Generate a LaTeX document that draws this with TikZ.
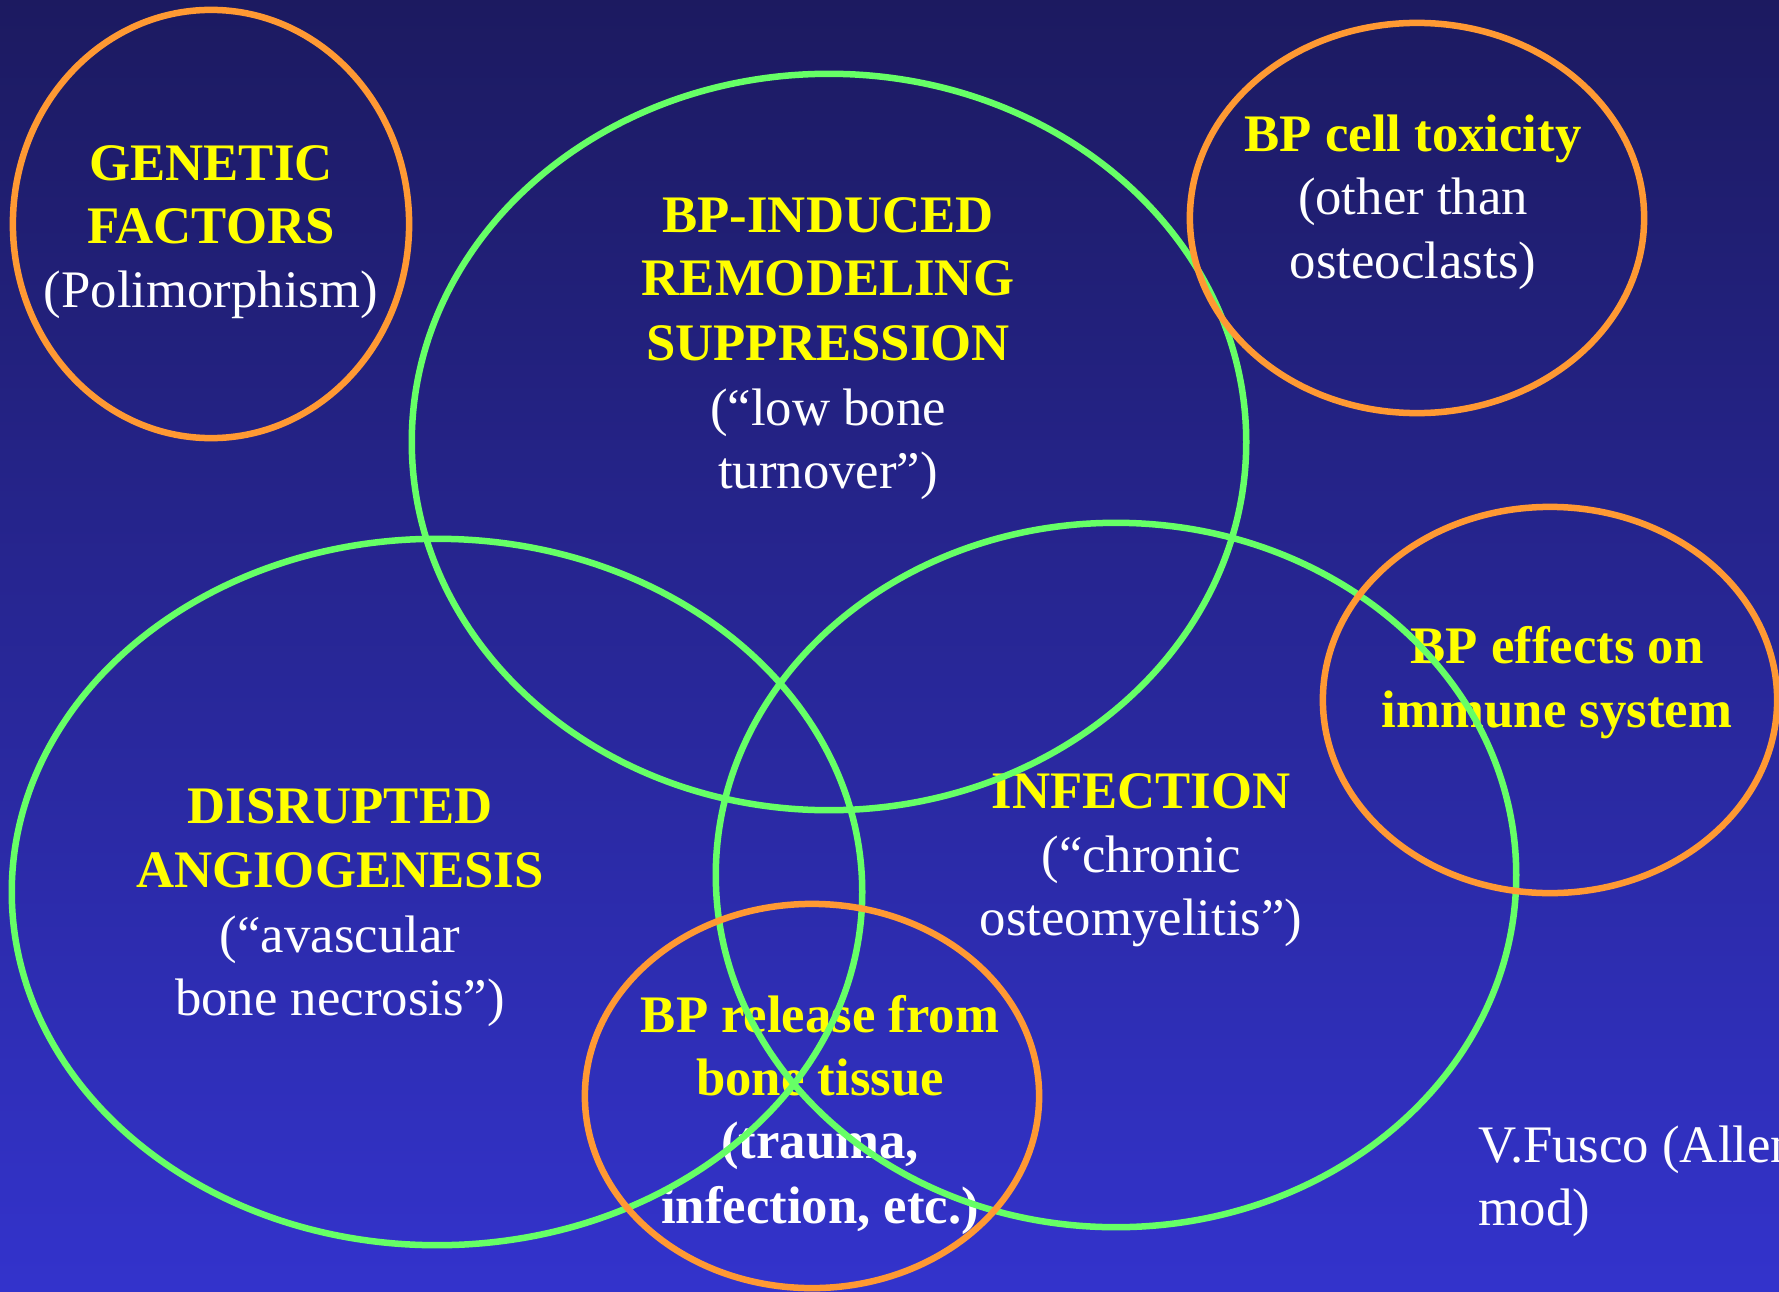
\documentclass[tikz,border=0pt]{standalone}
\usepackage{fontspec}
\setmainfont{Liberation Serif}
\usetikzlibrary{shapes.geometric}
\definecolor{bgtop}{RGB}{28,26,96}
\definecolor{bgbot}{RGB}{51,51,204}
\definecolor{lgreen}{RGB}{102,255,102}
\definecolor{lorange}{RGB}{255,153,51}
\definecolor{lyellow}{RGB}{255,255,0}
\begin{document}
\begin{tikzpicture}[x=0.01cm,y=-0.01cm,
  ring/.style={ellipse,draw,line width=0.065cm,inner sep=0pt,outer sep=0pt},
  grn/.style={ring,draw=lgreen},
  org/.style={ring,draw=lorange},
  txt/.style={anchor=base,inner sep=0pt,text=white,font=\fontsize{15pt}{18pt}\selectfont},
  hd/.style={txt,text=lyellow,font=\fontsize{15pt}{18pt}\selectfont\bfseries},
  sub/.style={txt},
  subb/.style={txt,font=\fontsize{15pt}{18pt}\selectfont\bfseries}]
\fill[top color=bgtop,bottom color=bgbot] (0,0) rectangle (1779,1291);
\useasboundingbox (0,0) rectangle (1779,1291);

% texts
\node[hd]  (g1) at (211,180) {GENETIC};
\node[hd]  (g2) at (211,243) {FACTORS};
\node[sub] (g3) at (211,307) {(Polimorphism)};

\node[hd]  (r1) at (828,232) {BP-INDUCED};
\node[hd]  (r2) at (828,295) {REMODELING};
\node[hd]  (r3) at (828,360) {SUPPRESSION};
\node[sub] (r4) at (828,425) {(“low bone};
\node[sub] (r5) at (828,488) {turnover”)};

\node[hd]  (t1) at (1413,152) {BP cell toxicity};
\node[sub] (t2) at (1413,215) {(other than};
\node[sub] (t3) at (1413,278) {osteoclasts)};

\node[hd]  (e1) at (1557,663) {BP effects on};
\node[hd]  (e2) at (1557,727) {immune system};

\node[hd]  (a1) at (340,823) {DISRUPTED};
\node[hd]  (a2) at (340,887) {ANGIOGENESIS};
\node[sub] (a3) at (340,952) {(“avascular};
\node[sub] (a4) at (340,1015) {bone necrosis”)};

\node[hd]  (i1) at (1141,808) {INFECTION};
\node[sub] (i2) at (1141,872) {(“chronic};
\node[sub] (i3) at (1141,935) {osteomyelitis”)};

\node[hd]   (b1) at (820,1032) {BP release from};
\node[hd]   (b2) at (820,1095) {bone tissue};
\node[subb] (b3) at (820,1158) {(trauma,};
\node[subb] (b4) at (820,1223) {infection, etc.)};

\node[sub,anchor=base west] (v1) at (1478,1162) {V.Fusco (Allen};
\node[sub,anchor=base west] (v2) at (1478,1225) {mod)};

% green ellipses
\node[grn,minimum width=8.34cm,minimum height=7.36cm] (remod) at (829,442) {};
\node[grn,minimum width=8.50cm,minimum height=7.06cm] (angio) at (437,892) {};
\node[grn,minimum width=8.00cm,minimum height=7.04cm] (infec) at (1116,875) {};

% orange ellipses
\node[org,minimum width=3.96cm,minimum height=4.28cm] (genet) at (211,224) {};
\node[org,minimum width=4.54cm,minimum height=3.90cm] (toxic) at (1417,218) {};
\node[org,minimum width=4.54cm,minimum height=3.86cm] (immun) at (1550,700) {};
\node[org,minimum width=4.54cm,minimum height=3.84cm] (relea) at (812,1096) {};
\end{tikzpicture}
\end{document}
